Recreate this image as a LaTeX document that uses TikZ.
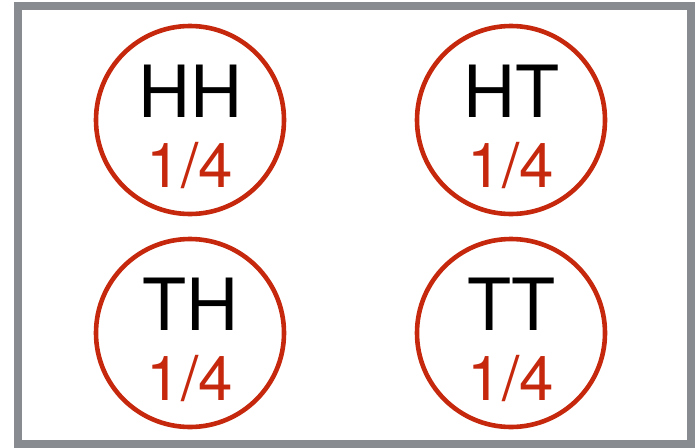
\documentclass[tikz,border=0pt]{standalone}
\usepackage{fontspec}
\setmainfont{TeX Gyre Heros}
\definecolor{ringred}{RGB}{197,40,13}
\definecolor{framegray}{RGB}{136,139,143}
\begin{document}
\begin{tikzpicture}[x=1pt,y=-1pt,
  ring/.style={draw=ringred,line width=4.6pt,circle,minimum size=188pt,inner sep=0pt},
  outcome/.style={anchor=base,font=\fontsize{72}{72}\selectfont,text=black,inner sep=0pt},
  prob/.style={anchor=base,font=\fontsize{62}{62}\selectfont,text=ringred,inner sep=0pt}]
\useasboundingbox (0,0) rectangle (695,447);
\draw[framegray,line width=7.5pt] (18,6) rectangle (691,444);
\foreach \nm/\lab/\cx/\cy in {hh/HH/190/120, ht/HT/511/120, th/TH/190/333, tt/TT/511/333}{
  \node[ring] (\nm) at (\cx,\cy) {};
  \node[outcome] (\nm-o) at (\cx,\cy-3) {\lab};
  \node[prob] (\nm-p) at (\cx,\cy+67) {1/4};
}
\end{tikzpicture}
\end{document}
